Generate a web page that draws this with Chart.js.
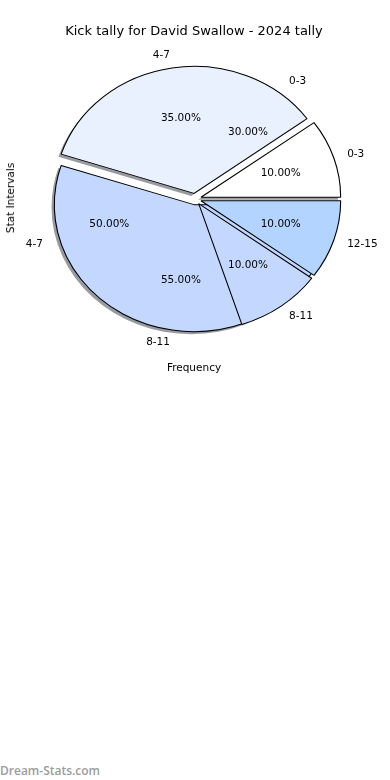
<!DOCTYPE html>
<html>
<head>
<meta charset="utf-8">
<script src="https://cdn.jsdelivr.net/npm/chart.js@4.4.1/dist/chart.umd.min.js"></script>
<style>
  body { margin: 0; background: #fff; font-family: "DejaVu Sans", sans-serif; }
  #wrap { position: relative; width: 390px; height: 780px; overflow: hidden; }
  canvas { position: absolute; left: 0; top: 0; }
  .txt { position: absolute; color: #000; white-space: nowrap; transform: translate(-50%, -50%); }
  #mark { position: absolute; left: 0; top: 762px; font: 600 12px "Open Sans", sans-serif; color: #9c9c9c; }
</style>
</head>
<body>
<div id="wrap">
  <canvas id="pieTally" width="390" height="398"></canvas>
  <canvas id="pieIntervals" width="390" height="398"></canvas>
  <div class="txt" style="left:194px;top:30px;font-size:13px">Kick tally for David Swallow - 2024 tally</div>
  <div class="txt" style="left:10px;top:198px;font-size:10.5px;transform:translate(-50%,-50%) rotate(-90deg)">Stat Intervals</div>
  <div class="txt" style="left:194px;top:367px;font-size:10.5px">Frequency</div>
  <div id="mark">Dream-Stats.com</div>
</div>
<script>
// two pies drawn over each other, like the original
const tallyLabels = ["0-3", "4-7", "8-11"];
const tallyValues = [10, 35, 55];
const intervalLabels = ["0-3", "4-7", "8-11", "12-15"];
const intervalValues = [30, 50, 10, 10];

const tallyColors = ["#ffffff", "#e9f0fe", "#c4d8ff"];
const tallyBorders = ["#000", "#000", "#000"];
const intervalColors = ["rgba(255,255,255,0)", "rgba(255,255,255,0)", "#c4d8ff", "#b3d4ff"];
const intervalBorders = ["rgba(0,0,0,0)", "rgba(0,0,0,0)", "#000", "#000"];

const STRETCH_X = 1.1;  // the pie is a little wider than tall
const EXPLODE = 0.045;  // wedge offset as part of the radius

// chart.js goes clockwise from the top, matplotlib counter-clockwise from 3 o'clock
const rev = a => a.slice().reverse();

const mplPie = {
    id: "mplPie",
    beforeDatasetsDraw(chart, args, opts) {
        const ctx = chart.ctx;
        const arcs = chart.getDatasetMeta(0).data;
        const cx = arcs[0].x, cy = arcs[0].y, r = arcs[0].outerRadius;
        const ex = r * EXPLODE;
        ctx.save();
        ctx.translate(cx, cy);
        ctx.scale(STRETCH_X, 1);
        ctx.translate(-cx, -cy);
        if (opts.shadow) {
            ctx.fillStyle = "rgba(50, 55, 70, 0.5)";
            arcs.forEach(a => {
                const mid = (a.startAngle + a.endAngle) / 2;
                const ox = cx + Math.cos(mid) * ex - r * 0.02;
                const oy = cy + Math.sin(mid) * ex + r * 0.02;
                ctx.beginPath();
                ctx.moveTo(ox, oy);
                ctx.arc(ox, oy, r, a.startAngle, a.endAngle);
                ctx.closePath();
                ctx.fill();
            });
        }
        arcs.forEach(a => {
            const mid = (a.startAngle + a.endAngle) / 2;
            ctx.save();
            ctx.translate(Math.cos(mid) * ex, Math.sin(mid) * ex);
            a.draw(ctx);
            ctx.restore();
        });
        ctx.restore();
        return false;
    },
    afterDraw(chart) {
        const ctx = chart.ctx;
        const arcs = chart.getDatasetMeta(0).data;
        const values = chart.data.datasets[0].data;
        const total = values.reduce((s, v) => s + v, 0);
        ctx.save();
        ctx.fillStyle = "#000";
        ctx.font = '10.5px "DejaVu Sans"';
        ctx.textBaseline = "middle";
        arcs.forEach((a, i) => {
            const mid = (a.startAngle + a.endAngle) / 2;
            const r = a.outerRadius, ex = r * EXPLODE;
            const c = Math.cos(mid), s = Math.sin(mid);
            const lr = ex + r * 1.1, pr = ex + r * 0.6;
            ctx.textAlign = c > 0 ? "left" : "right";
            ctx.fillText(chart.data.labels[i], a.x + STRETCH_X * lr * c, a.y + lr * s);
            ctx.textAlign = "center";
            ctx.fillText((values[i] / total * 100).toFixed(2) + "%", a.x + STRETCH_X * pr * c, a.y + pr * s);
        });
        ctx.restore();
    }
};

function makePie(id, labels, values, colors, borders, shadow) {
    return new Chart(document.getElementById(id), {
        type: "pie",
        data: {
            labels: rev(labels),
            datasets: [{
                data: rev(values),
                backgroundColor: rev(colors),
                borderColor: rev(borders),
                borderWidth: 1
            }]
        },
        options: {
            responsive: false,
            animation: false,
            events: [],
            rotation: 90,
            radius: 127,
            layout: { padding: 0 },
            plugins: {
                legend: { display: false },
                tooltip: { enabled: false },
                mplPie: { shadow }
            }
        },
        plugins: [mplPie]
    });
}

makePie("pieTally", tallyLabels, tallyValues, tallyColors, tallyBorders, true);
makePie("pieIntervals", intervalLabels, intervalValues, intervalColors, intervalBorders, false);
</script>
</body>
</html>
